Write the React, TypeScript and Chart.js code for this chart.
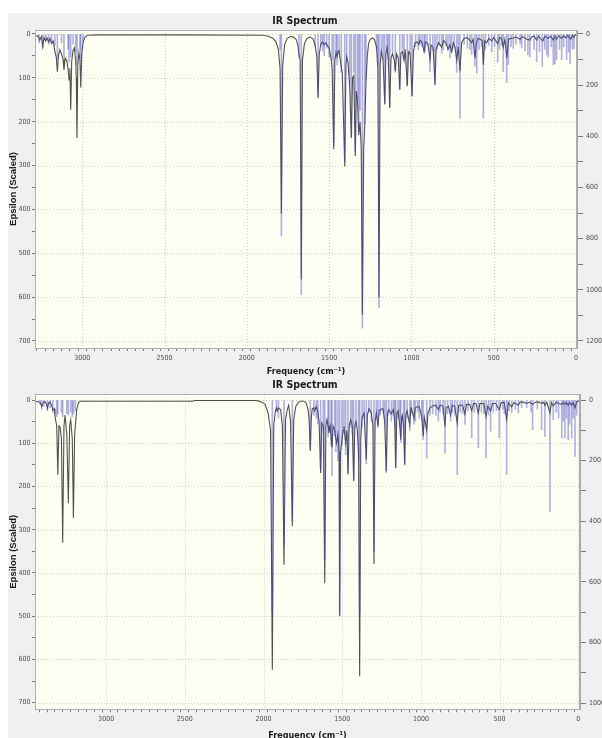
import React, { useEffect, useRef } from 'react';
import { Chart, registerables } from 'chart.js';

Chart.register(...registerables);

// ---------------- upper spectrum ----------------
const upperCurveFreq = [
  3287, 3268, 3258, 3248, 3240, 3232, 3222, 3214, 3204, 3196, 3186, 3176, 3166, 3158, 3151, 3144, 3136, 3126, 3116, 3111,
  3104, 3094, 3086, 3080, 3075, 3070, 3064, 3056, 3048, 3040, 3036, 3032, 3027, 3020, 3014, 3009, 3003, 2994, 2982, 2966,
  2900, 2400, 1900, 1870, 1845, 1825, 1808, 1798, 1790, 1782, 1770, 1755, 1735, 1715, 1700, 1690, 1683, 1676, 1669, 1662,
  1650, 1635, 1615, 1598, 1585, 1575, 1567, 1560, 1550, 1540, 1530, 1520, 1510, 1500, 1490, 1482, 1472, 1465, 1458, 1452,
  1446, 1440, 1432, 1420, 1405, 1398, 1393, 1385, 1375, 1365, 1358, 1350, 1341, 1335, 1328, 1320, 1312, 1305, 1298, 1290,
  1284, 1276, 1268, 1260, 1250, 1238, 1225, 1212, 1204, 1197, 1190, 1183, 1172, 1162, 1155, 1148, 1140, 1132, 1124, 1115,
  1104, 1098, 1090, 1080, 1071, 1064, 1055, 1045, 1038, 1025, 1018, 1008, 996, 988, 978, 965, 955, 948, 935, 923,
  915, 900, 887, 880, 868, 857, 850, 835, 816, 805, 790, 778, 766, 755, 745, 735, 725, 716, 705, 695,
  680, 664, 650, 634, 625, 614, 605, 595, 583, 570, 563, 555, 543, 530, 512, 500, 476, 465, 452, 442,
  432, 421, 410, 395, 380, 365, 340, 325, 298, 280, 268, 255, 239, 228, 202, 190, 168, 155, 138, 128,
  118, 105, 87, 75, 61, 50, 32, 22, 12, 5, -6,
];
const upperCurveEps = [
  3, 5, 14, 6, 29, 8, 16, 9, 18, 10, 22, 16, 40, 52, 86, 48, 36, 46, 58, 82,
  55, 60, 80, 105, 78, 173, 62, 38, 32, 60, 100, 237, 70, 42, 58, 122, 45, 18, 6, 3,
  2, 2, 3, 5, 9, 16, 35, 80, 410, 70, 24, 10, 6, 7, 13, 26, 47, 60, 560, 60,
  22, 10, 7, 11, 26, 52, 145, 45, 22, 18, 25, 20, 27, 32, 52, 75, 262, 60, 42, 52,
  40, 38, 60, 90, 302, 70, 52, 66, 120, 237, 100, 95, 278, 130, 150, 230, 200, 260, 640, 260,
  214, 110, 50, 22, 12, 9, 12, 30, 80, 600, 70, 40, 60, 161, 45, 30, 60, 169, 55, 45,
  60, 85, 45, 55, 127, 45, 40, 60, 35, 119, 40, 45, 142, 40, 20, 18, 24, 14, 20, 40,
  18, 22, 58, 25, 30, 115, 35, 20, 30, 15, 20, 35, 25, 40, 20, 30, 60, 30, 85, 20,
  10, 8, 12, 20, 12, 55, 20, 10, 12, 15, 70, 15, 20, 10, 16, 8, 22, 8, 10, 30,
  12, 55, 12, 10, 9, 7, 12, 6, 12, 14, 6, 5, 14, 5, 16, 5, 10, 5, 14, 5,
  12, 4, 10, 4, 9, 3, 12, 3, 8, 2, 2,
];
const upperStickFreq = [
  3262, 3240, 3222, 3204, 3186, 3166, 3151, 3126, 3111, 3086, 3080, 3070, 3056, 3040, 3032, 3014, 3009, 2995,
  1798, 1790, 1683, 1669, 1585, 1567, 1550, 1540, 1530, 1515, 1500, 1482, 1472, 1458, 1452, 1440, 1426, 1405,
  1393, 1375, 1365, 1350, 1341, 1328, 1320, 1312, 1298, 1284, 1276, 1212, 1204, 1197, 1183, 1172, 1162, 1148,
  1140, 1132, 1115, 1098, 1071, 1055, 1045, 1025, 1008, 996, 975, 958, 948, 935, 923, 917, 905, 887,
  870, 857, 845, 830, 816, 806, 790, 778, 765, 755, 740, 725, 715, 705, 680, 660, 645, 634,
  614, 603, 590, 575, 563, 550, 530, 512, 495, 476, 465, 452, 442, 421, 411, 395, 381, 365,
  340, 330, 310, 292, 280, 255, 239, 222, 205, 190, 178, 168, 150, 138, 128, 118, 100, 87,
  75, 57, 45, 36, 22, 12,
];
const upperStickInt = [
  35, 55, 25, 40, 30, 45, 100, 35, 90, 60, 110, 90, 40, 70, 120, 60, 95, 30,
  60, 790, 90, 1020, 50, 250, 45, 65, 85, 55, 90, 100, 440, 70, 120, 80, 150, 500,
  100, 200, 400, 150, 460, 250, 380, 300, 1150, 350, 180, 60, 120, 1070, 80, 100, 270, 60,
  100, 285, 70, 150, 215, 60, 100, 200, 80, 240, 50, 62, 40, 50, 70, 69, 45, 147,
  65, 200, 60, 45, 75, 62, 45, 60, 94, 70, 55, 150, 80, 329, 40, 55, 60, 80,
  125, 153, 60, 50, 329, 60, 45, 70, 50, 110, 60, 45, 147, 190, 120, 50, 56, 40,
  39, 55, 65, 82, 90, 60, 108, 70, 128, 60, 82, 90, 50, 120, 117, 100, 60, 100,
  50, 100, 70, 115, 60, 56,
];

// ---------------- lower spectrum ----------------
const lowerCurveFreq = [
  3452, 3420, 3409, 3398, 3388, 3378, 3373, 3365, 3356, 3346, 3339, 3330, 3325, 3314, 3307, 3300, 3293, 3284, 3276, 3268,
  3261, 3250, 3240, 3232, 3225, 3215, 3208, 3200, 3196, 3187, 3176, 3166, 3145, 2450, 2440, 2050, 2035, 2010, 1990, 1971,
  1955, 1944, 1935, 1925, 1918, 1912, 1905, 1891, 1880, 1870, 1860, 1849, 1840, 1828, 1817, 1808, 1795, 1780, 1768, 1745,
  1730, 1717, 1710, 1703, 1696, 1690, 1680, 1675, 1665, 1655, 1647, 1637, 1630, 1620, 1611, 1604, 1597, 1590, 1584, 1576,
  1570, 1565, 1558, 1548, 1540, 1535, 1527, 1520, 1516, 1510, 1501, 1494, 1489, 1484, 1478, 1470, 1463, 1456, 1446, 1436,
  1427, 1420, 1412, 1404, 1396, 1389, 1382, 1374, 1361, 1347, 1340, 1330, 1315, 1305, 1298, 1291, 1283, 1273, 1265, 1258,
  1241, 1230, 1220, 1212, 1205, 1188, 1175, 1166, 1160, 1153, 1145, 1134, 1128, 1122, 1118, 1110, 1103, 1096, 1088, 1071,
  1064, 1061, 1044, 1035, 1020, 1010, 994, 985, 978, 963, 955, 942, 925, 905, 889, 878, 860, 847, 840, 825,
  811, 800, 785, 769, 760, 735, 720, 710, 690, 677, 665, 650, 635, 625, 600, 586, 575, 557, 545, 525,
  502, 490, 470, 455, 445, 423, 410, 381, 370, 350, 328, 310, 290, 270, 250, 233, 220, 212, 200, 180,
  170, 159, 140, 125, 105, 95, 85, 75, 64, 55, 42, 32, 21, 10, -11,
];
const lowerCurveEps = [
  3, 5, 15, 5, 4, 10, 19, 6, 5, 12, 23, 20, 38, 60, 173, 60, 62, 90, 330, 60,
  35, 80, 239, 60, 46, 90, 272, 80, 62, 22, 6, 3, 3, 3, 1, 1, 2, 5, 10, 30,
  70, 624, 60, 26, 18, 25, 18, 22, 60, 381, 45, 22, 12, 50, 292, 45, 15, 6, 3, 3,
  6, 22, 45, 118, 40, 20, 18, 25, 15, 25, 50, 169, 53, 60, 424, 60, 45, 60, 76, 60,
  90, 110, 60, 69, 90, 100, 80, 120, 499, 120, 90, 70, 61, 80, 100, 70, 172, 60, 45, 60,
  188, 60, 50, 70, 120, 639, 90, 40, 30, 138, 35, 20, 30, 60, 379, 50, 30, 61, 25, 22,
  20, 50, 165, 30, 22, 32, 22, 50, 157, 30, 25, 60, 92, 40, 35, 60, 149, 35, 25, 57,
  20, 18, 42, 18, 15, 16, 40, 84, 40, 70, 30, 18, 14, 12, 22, 12, 14, 61, 18, 14,
  35, 12, 14, 53, 12, 12, 33, 10, 10, 25, 8, 8, 30, 8, 8, 38, 14, 25, 8, 8,
  22, 6, 6, 45, 6, 16, 6, 12, 5, 5, 8, 5, 10, 5, 5, 8, 5, 12, 5, 30,
  6, 14, 5, 8, 10, 6, 10, 6, 12, 6, 12, 6, 18, 4, 2,
];
const lowerStickFreq = [
  3420, 3409, 3395, 3373, 3356, 3339, 3314, 3307, 3284, 3276, 3250, 3240, 3225, 3215, 3208, 3196,
  1944, 1918, 1905, 1870, 1817, 1703, 1680, 1665, 1655, 1637, 1620, 1611, 1590, 1584, 1570, 1565,
  1548, 1540, 1527, 1516, 1501, 1489, 1478, 1463, 1446, 1436, 1427, 1412, 1396, 1389, 1374, 1361,
  1347, 1330, 1315, 1298, 1283, 1273, 1258, 1241, 1230, 1220, 1205, 1188, 1175, 1166, 1160, 1145,
  1134, 1128, 1110, 1103, 1088, 1071, 1061, 1044, 1035, 1020, 1010, 994, 985, 963, 942, 925,
  905, 889, 878, 860, 847, 830, 811, 800, 785, 769, 750, 735, 720, 700, 677, 660,
  635, 615, 600, 586, 570, 557, 540, 520, 502, 480, 470, 455, 440, 423, 400, 381,
  360, 328, 300, 290, 260, 233, 212, 180, 159, 140, 125, 105, 95, 85, 75, 64,
  55, 42, 32, 21, 10,
];
const lowerStickInt = [
  15, 30, 20, 35, 25, 40, 55, 45, 40, 55, 45, 50, 40, 55, 45, 35,
  702, 40, 60, 480, 400, 160, 50, 60, 80, 230, 100, 528, 120, 100, 150, 250,
  120, 170, 200, 712, 150, 110, 180, 240, 90, 110, 260, 90, 200, 700, 90, 60,
  210, 40, 70, 500, 60, 90, 50, 40, 80, 240, 50, 70, 50, 90, 225, 60,
  90, 140, 100, 215, 60, 100, 45, 80, 70, 40, 60, 70, 130, 191, 50, 45,
  50, 70, 40, 45, 175, 45, 70, 40, 50, 246, 40, 45, 80, 35, 125, 40,
  158, 40, 45, 191, 50, 103, 40, 35, 125, 30, 45, 246, 35, 43, 30, 43,
  25, 26, 40, 98, 30, 98, 120, 368, 65, 40, 60, 125, 70, 125, 60, 131,
  80, 125, 60, 186, 50,
];

// ---------------- axes ----------------
const freqMajorTicks = [3000, 2500, 2000, 1500, 1000, 500, 0];
const freqMinorStep = 50;
const epsMajorTicks = [0, 100, 200, 300, 400, 500, 600, 700];
const epsMinorStep = 50;
const upperIntMajorTicks = [0, 200, 400, 600, 800, 1000, 1200];
const lowerIntMajorTicks = [0, 200, 400, 600, 800, 1000];
const intMinorStep = 100;

const chartTitle = 'IR Spectrum';
const xTitle = 'Frequency (cm\u207B\u00B9)';
const yTitle = 'Epsilon (Scaled)';

const NARROW = "'Liberation Sans Narrow', 'Arial Narrow', 'DejaVu Sans Condensed', 'Liberation Sans', Arial, sans-serif";
const REGULAR = "'Liberation Sans', Arial, sans-serif";

function stepTicks(min: number, max: number, step: number): number[] {
  const out: number[] = [];
  for (let v = Math.ceil(min / step) * step; v <= max; v += step) out.push(v);
  return out;
}

type Spec = {
  curveFreq: number[];
  curveEps: number[];
  stickFreq: number[];
  stickInt: number[];
  freqMin: number;
  freqMax: number;
  epsMin: number;
  epsMax: number;
  intMin: number;
  intMax: number;
  intMajor: number[];
  leftWidth: number;
  rightWidth: number;
  xHeight: number;
  titlePad: { top: number; bottom: number };
};

const panelPlugin = {
  id: 'irPanel',
  beforeDraw(chart: any) {
    const { ctx, chartArea: a, width, height } = chart;
    ctx.save();
    ctx.fillStyle = '#f0f0f0';
    ctx.fillRect(0, 0, width, height);
    ctx.fillStyle = '#fffff4';
    ctx.fillRect(a.left, a.top, a.right - a.left, a.bottom - a.top);
    ctx.strokeStyle = 'rgba(170,170,170,0.55)';
    ctx.lineWidth = 1;
    ctx.setLineDash([1, 2]);
    const xs = chart.scales.x;
    const ys = chart.scales.y;
    for (const v of freqMajorTicks) {
      const px = Math.round(xs.getPixelForValue(v)) + 0.5;
      if (px <= a.left + 1 || px >= a.right - 1) continue;
      ctx.beginPath();
      ctx.moveTo(px, a.top);
      ctx.lineTo(px, a.bottom);
      ctx.stroke();
    }
    for (const v of epsMajorTicks) {
      const py = Math.round(ys.getPixelForValue(v)) + 0.5;
      if (py <= a.top + 1 || py >= a.bottom - 1) continue;
      ctx.beginPath();
      ctx.moveTo(a.left, py);
      ctx.lineTo(a.right, py);
      ctx.stroke();
    }
    ctx.restore();
  },
  afterDatasetsDraw(chart: any) {
    const { ctx, chartArea: a } = chart;
    ctx.save();
    ctx.strokeStyle = '#b0b0b0';
    ctx.lineWidth = 1;
    ctx.strokeRect(Math.round(a.left) + 0.5, Math.round(a.top) + 0.5, Math.round(a.right - a.left) - 1, Math.round(a.bottom - a.top));
    ctx.restore();
  },
};

function makeConfig(s: Spec): any {
  const tickFont = { family: NARROW, size: 7 };
  const tickColor = '#4a4a4a';
  return {
    type: 'line',
    data: {
      datasets: [
        {
          type: 'bar',
          data: s.stickFreq.map((f, i) => ({ x: f, y: s.stickInt[i] })),
          xAxisID: 'x',
          yAxisID: 'y2',
          backgroundColor: 'rgba(70,70,195,0.42)',
          borderWidth: 0,
          barThickness: 1,
          grouped: false,
          order: 0,
        },
        {
          type: 'line',
          data: s.curveFreq.map((f, i) => ({ x: f, y: s.curveEps[i] })),
          xAxisID: 'x',
          yAxisID: 'y',
          borderColor: 'rgba(50,50,50,0.85)',
          borderWidth: 1.1,
          pointRadius: 0,
          tension: 0,
          fill: false,
          order: 1,
        },
      ],
    },
    options: {
      animation: false,
      responsive: false,
      events: [],
      layout: { padding: 0 },
      plugins: {
        legend: { display: false },
        tooltip: { enabled: false },
        title: {
          display: true,
          text: chartTitle,
          color: '#1a1a1a',
          font: { family: NARROW, size: 10.5, weight: 'bold' },
          padding: s.titlePad,
        },
      },
      scales: {
        x: {
          type: 'linear',
          position: 'bottom',
          reverse: true,
          offset: false,
          min: s.freqMin,
          max: s.freqMax,
          afterBuildTicks: (sc: any) => {
            sc.ticks = stepTicks(0, s.freqMax, freqMinorStep).map((v) => ({ value: v }));
          },
          afterFit: (sc: any) => {
            sc.height = s.xHeight;
          },
          ticks: {
            autoSkip: false,
            maxRotation: 0,
            padding: 3,
            font: tickFont,
            color: tickColor,
            callback: (v: number) => (freqMajorTicks.includes(v) ? String(v) : ''),
          },
          grid: { drawOnChartArea: false, drawTicks: true, tickLength: 3, tickColor: '#7a7a7a', color: 'transparent' },
          border: { display: true, color: '#9a9a9a' },
          title: {
            display: true,
            text: xTitle,
            color: '#1a1a1a',
            font: { family: NARROW, size: 9, weight: 'bold' },
            padding: { top: 0, bottom: 0 },
          },
        },
        y: {
          type: 'linear',
          position: 'left',
          reverse: true,
          min: s.epsMin,
          max: s.epsMax,
          afterBuildTicks: (sc: any) => {
            sc.ticks = stepTicks(0, 700, epsMinorStep).map((v) => ({ value: v }));
          },
          afterFit: (sc: any) => {
            sc.width = s.leftWidth;
          },
          ticks: {
            autoSkip: false,
            padding: 1.5,
            font: tickFont,
            color: tickColor,
            callback: (v: number) => (epsMajorTicks.includes(v) ? String(v) : ''),
          },
          grid: { drawOnChartArea: false, drawTicks: true, tickLength: 3, tickColor: '#7a7a7a', color: 'transparent' },
          border: { display: true, color: '#a8a8a8' },
          title: {
            display: true,
            text: yTitle,
            color: '#1a1a1a',
            font: { family: REGULAR, size: 9.5, weight: 'bold' },
            padding: { top: 0, bottom: 0 },
          },
        },
        y2: {
          type: 'linear',
          position: 'right',
          reverse: true,
          min: s.intMin,
          max: s.intMax,
          afterBuildTicks: (sc: any) => {
            sc.ticks = stepTicks(0, s.intMajor[s.intMajor.length - 1], intMinorStep).map((v) => ({ value: v }));
          },
          afterFit: (sc: any) => {
            sc.width = s.rightWidth;
          },
          ticks: {
            autoSkip: false,
            padding: 3,
            font: tickFont,
            color: tickColor,
            callback: (v: number) => (s.intMajor.includes(v) ? String(v) : ''),
          },
          grid: { drawOnChartArea: false, drawTicks: true, tickLength: 6, tickColor: '#7a7a7a', color: 'transparent' },
          border: { display: true, color: '#a8a8a8' },
        },
      },
    },
    plugins: [panelPlugin],
  };
}

const upperSpec: Spec = {
  curveFreq: upperCurveFreq,
  curveEps: upperCurveEps,
  stickFreq: upperStickFreq,
  stickInt: upperStickInt,
  freqMin: -6,
  freqMax: 3287,
  epsMin: -9.1,
  epsMax: 716,
  intMin: -15.6,
  intMax: 1227.5,
  intMajor: upperIntMajorTicks,
  leftWidth: 27,
  rightWidth: 25,
  xHeight: 29,
  titlePad: { top: 1.5, bottom: 2.9 },
};

const lowerSpec: Spec = {
  curveFreq: lowerCurveFreq,
  curveEps: lowerCurveEps,
  stickFreq: lowerStickFreq,
  stickInt: lowerStickInt,
  freqMin: -11,
  freqMax: 3452,
  epsMin: -13.2,
  epsMax: 715.3,
  intMin: -18.8,
  intMax: 1019.8,
  intMajor: lowerIntMajorTicks,
  leftWidth: 27,
  rightWidth: 22,
  xHeight: 31.7,
  titlePad: { top: 1.6, bottom: 3.1 },
};

function SpectrumPanel({ spec, top }: { spec: Spec; top: number }) {
  const ref = useRef<HTMLCanvasElement | null>(null);
  useEffect(() => {
    if (!ref.current) return;
    const chart = new Chart(ref.current, makeConfig(spec));
    return () => chart.destroy();
  }, [spec]);
  return (
    <canvas
      ref={ref}
      width={594}
      height={364}
      style={{ position: 'absolute', left: 8, top, width: 594, height: 364, background: '#f0f0f0' }}
    />
  );
}

export default function App() {
  return (
    <div
      style={{
        position: 'fixed',
        left: 0,
        top: 0,
        width: 602,
        height: 738,
        overflow: 'hidden',
        background: '#ffffff',
      }}
    >
      <SpectrumPanel spec={upperSpec} top={13} />
      <SpectrumPanel spec={lowerSpec} top={377} />
    </div>
  );
}
